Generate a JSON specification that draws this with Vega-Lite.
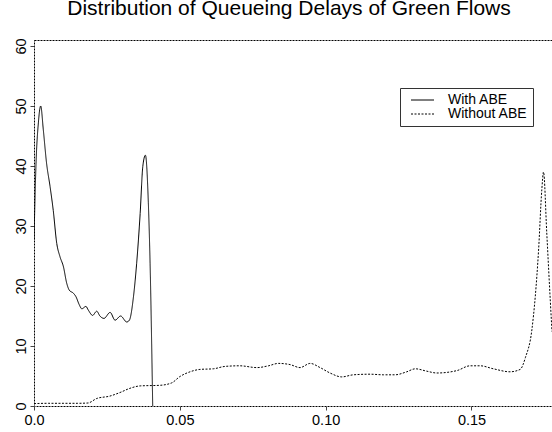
{
  "$schema": "https://vega.github.io/schema/vega-lite/v6.json",
  "width": 518,
  "height": 366,
  "autosize": {"type": "none"},
  "padding": {"left": 34, "top": 40, "right": 0, "bottom": 26},
  "background": "white",
  "title": {
    "text": "Distribution of Queueing Delays of Green Flows",
    "font": "Liberation Sans",
    "fontSize": 21,
    "fontWeight": "normal",
    "color": "black",
    "anchor": "middle",
    "frame": "group",
    "baseline": "alphabetic",
    "offset": 22,
    "dy": 20,
    "dx": -4
  },
  "data": {
    "values": [
      {"series": "With ABE", "x": 0, "y": 27.7},
      {"series": "With ABE", "x": 0.0007, "y": 40.5},
      {"series": "With ABE", "x": 0.0015, "y": 47.2},
      {"series": "With ABE", "x": 0.0023, "y": 50.0},
      {"series": "With ABE", "x": 0.0032, "y": 46.0},
      {"series": "With ABE", "x": 0.0043, "y": 40.5},
      {"series": "With ABE", "x": 0.0055, "y": 36.6},
      {"series": "With ABE", "x": 0.0066, "y": 32.6},
      {"series": "With ABE", "x": 0.0078, "y": 27.1},
      {"series": "With ABE", "x": 0.0089, "y": 24.9},
      {"series": "With ABE", "x": 0.0101, "y": 23.2},
      {"series": "With ABE", "x": 0.0112, "y": 20.5},
      {"series": "With ABE", "x": 0.0121, "y": 19.3},
      {"series": "With ABE", "x": 0.0135, "y": 18.8},
      {"series": "With ABE", "x": 0.0144, "y": 18.2},
      {"series": "With ABE", "x": 0.0155, "y": 16.9},
      {"series": "With ABE", "x": 0.0164, "y": 16.2},
      {"series": "With ABE", "x": 0.0178, "y": 16.6},
      {"series": "With ABE", "x": 0.0186, "y": 16.0},
      {"series": "With ABE", "x": 0.0201, "y": 15.1},
      {"series": "With ABE", "x": 0.0215, "y": 15.8},
      {"series": "With ABE", "x": 0.0226, "y": 15.0},
      {"series": "With ABE", "x": 0.024, "y": 14.6},
      {"series": "With ABE", "x": 0.0261, "y": 15.6},
      {"series": "With ABE", "x": 0.0278, "y": 14.3},
      {"series": "With ABE", "x": 0.0297, "y": 15.0},
      {"series": "With ABE", "x": 0.0318, "y": 14.0},
      {"series": "With ABE", "x": 0.0327, "y": 14.3},
      {"series": "With ABE", "x": 0.0341, "y": 18.2},
      {"series": "With ABE", "x": 0.0352, "y": 23.8},
      {"series": "With ABE", "x": 0.0364, "y": 32.1},
      {"series": "With ABE", "x": 0.0373, "y": 39.9},
      {"series": "With ABE", "x": 0.0382, "y": 41.8},
      {"series": "With ABE", "x": 0.0392, "y": 33.9},
      {"series": "With ABE", "x": 0.0398, "y": 23.8},
      {"series": "With ABE", "x": 0.0407, "y": 0},
      {"series": "Without ABE", "x": 0, "y": 0.4},
      {"series": "Without ABE", "x": 0.005, "y": 0.45},
      {"series": "Without ABE", "x": 0.01, "y": 0.45},
      {"series": "Without ABE", "x": 0.015, "y": 0.45},
      {"series": "Without ABE", "x": 0.0185, "y": 0.5},
      {"series": "Without ABE", "x": 0.0215, "y": 1.25},
      {"series": "Without ABE", "x": 0.026, "y": 1.65},
      {"series": "Without ABE", "x": 0.0295, "y": 2.25},
      {"series": "Without ABE", "x": 0.0329, "y": 2.95},
      {"series": "Without ABE", "x": 0.0364, "y": 3.35},
      {"series": "Without ABE", "x": 0.0432, "y": 3.45},
      {"series": "Without ABE", "x": 0.0472, "y": 3.85},
      {"series": "Without ABE", "x": 0.05, "y": 4.9},
      {"series": "Without ABE", "x": 0.0535, "y": 5.7},
      {"series": "Without ABE", "x": 0.0569, "y": 6.1},
      {"series": "Without ABE", "x": 0.0615, "y": 6.2},
      {"series": "Without ABE", "x": 0.0655, "y": 6.6},
      {"series": "Without ABE", "x": 0.0706, "y": 6.7},
      {"series": "Without ABE", "x": 0.0764, "y": 6.4},
      {"series": "Without ABE", "x": 0.0804, "y": 6.7},
      {"series": "Without ABE", "x": 0.0838, "y": 7.1},
      {"series": "Without ABE", "x": 0.0878, "y": 6.9},
      {"series": "Without ABE", "x": 0.0912, "y": 6.4},
      {"series": "Without ABE", "x": 0.0947, "y": 7.1},
      {"series": "Without ABE", "x": 0.0981, "y": 6.4},
      {"series": "Without ABE", "x": 0.1015, "y": 5.5},
      {"series": "Without ABE", "x": 0.1055, "y": 4.85},
      {"series": "Without ABE", "x": 0.1095, "y": 5.2},
      {"series": "Without ABE", "x": 0.1152, "y": 5.3},
      {"series": "Without ABE", "x": 0.1198, "y": 5.2},
      {"series": "Without ABE", "x": 0.1238, "y": 5.2},
      {"series": "Without ABE", "x": 0.1278, "y": 5.7},
      {"series": "Without ABE", "x": 0.1307, "y": 6.2},
      {"series": "Without ABE", "x": 0.1347, "y": 5.8},
      {"series": "Without ABE", "x": 0.1381, "y": 5.5},
      {"series": "Without ABE", "x": 0.145, "y": 5.9},
      {"series": "Without ABE", "x": 0.1495, "y": 6.7},
      {"series": "Without ABE", "x": 0.153, "y": 6.7},
      {"series": "Without ABE", "x": 0.1575, "y": 6.2},
      {"series": "Without ABE", "x": 0.1632, "y": 5.7},
      {"series": "Without ABE", "x": 0.1667, "y": 6.1},
      {"series": "Without ABE", "x": 0.1685, "y": 8.1},
      {"series": "Without ABE", "x": 0.1707, "y": 12.7},
      {"series": "Without ABE", "x": 0.173, "y": 26.0},
      {"series": "Without ABE", "x": 0.1741, "y": 36.0},
      {"series": "Without ABE", "x": 0.1747, "y": 39.0},
      {"series": "Without ABE", "x": 0.1758, "y": 28.9},
      {"series": "Without ABE", "x": 0.177, "y": 17.7},
      {"series": "Without ABE", "x": 0.1776, "y": 12.4}
    ]
  },
  "mark": {"type": "line", "interpolate": "monotone", "strokeWidth": 1, "color": "black", "clip": true},
  "encoding": {
    "x": {
      "field": "x",
      "type": "quantitative",
      "scale": {"domain": [0, 0.1776], "nice": false, "zero": false},
      "axis": {
        "title": null,
        "values": [0, 0.05, 0.1, 0.15],
        "labelExpr": "datum.value == 0 ? '0.0' : format(datum.value, '.2f')",
        "domain": false,
        "grid": false,
        "tickSize": 4,
        "tickColor": "#444",
        "labelFont": "Liberation Sans",
        "labelFontSize": 14.5,
        "labelColor": "black",
        "labelPadding": 3,
        "labelFlush": false,
        "labelOverlap": false
      }
    },
    "y": {
      "field": "y",
      "type": "quantitative",
      "scale": {"domain": [0, 61], "nice": false, "zero": false},
      "axis": {
        "title": null,
        "values": [0, 10, 20, 30, 40, 50, 60],
        "labelAngle": -90,
        "labelAlign": "center",
        "labelBaseline": "bottom",
        "domain": false,
        "grid": false,
        "tickSize": 4,
        "tickColor": "#444",
        "labelFont": "Liberation Sans",
        "labelFontSize": 14.5,
        "labelColor": "black",
        "labelPadding": 2,
        "labelFlush": false,
        "labelOverlap": false
      }
    },
    "strokeDash": {
      "field": "series",
      "type": "nominal",
      "scale": {"domain": ["With ABE", "Without ABE"], "range": [[1, 0], [2, 1.5]]},
      "legend": {
        "orient": "none",
        "legendX": 366,
        "legendY": 48,
        "title": null,
        "strokeColor": "#333",
        "fillColor": "white",
        "padding": 5,
        "symbolType": "M-5.75,0H5.75",
        "symbolSize": 16,
        "symbolStrokeWidth": 1,
        "symbolStrokeColor": "black",
        "symbolOffset": 10.5,
        "labelOffset": 18.5,
        "labelFont": "Liberation Sans",
        "labelFontSize": 14,
        "labelColor": "black",
        "rowPadding": -8
      }
    }
  },
  "config": {
    "view": {"stroke": "black", "strokeDash": [2, 1], "strokeWidth": 1}
  }
}
